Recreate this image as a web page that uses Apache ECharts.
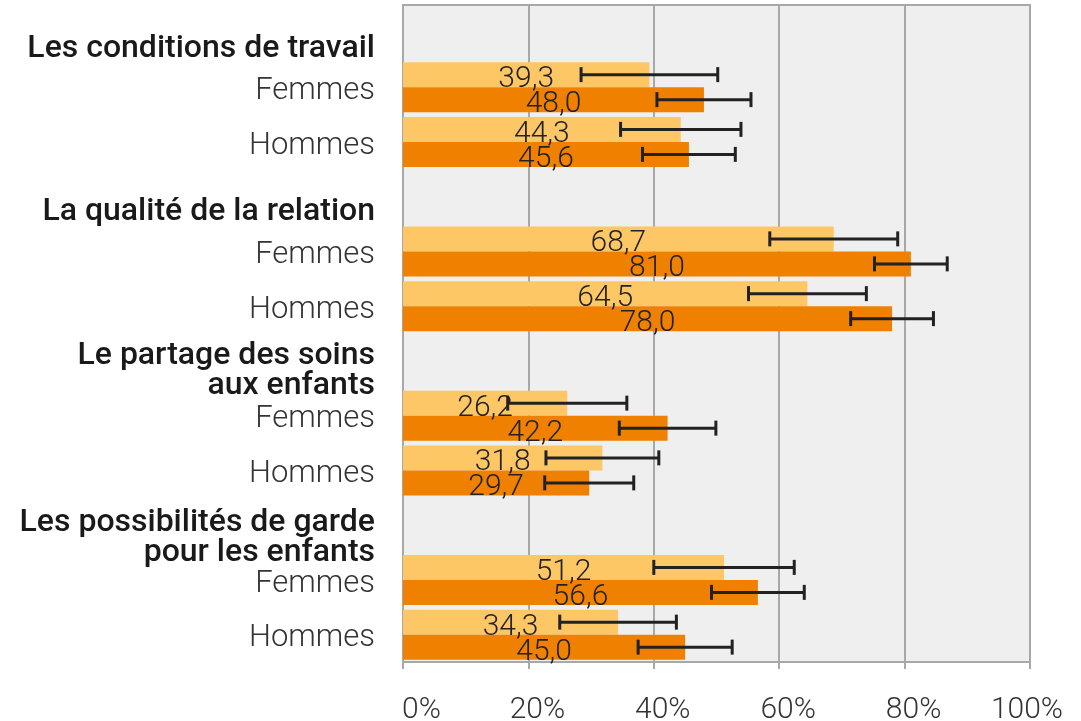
<!DOCTYPE html>
<html>
<head>
<meta charset="utf-8">
<script src="https://cdn.jsdelivr.net/npm/echarts@6/dist/echarts.min.js"></script>
<style>
  html, body { margin: 0; padding: 0; background: #fff; }
  #chart { width: 1081px; height: 721px; }
</style>
</head>
<body>
<div id="chart"></div>
<script>
// group titles (y axis headers) and the two rows under each
const groups = ['Les conditions de travail', 'La qualité de la relation', 'Le partage des soins\naux enfants', 'Les possibilités de garde\npour les enfants']
const sexes = ['Femmes', 'Hommes']
// values in %, order: group by group, Femmes then Hommes
const lightValues = [39.3, 44.3, 68.7, 64.5, 26.2, 31.8, 51.2, 34.3]
const darkValues = [48.0, 45.6, 81.0, 78.0, 42.2, 29.7, 56.6, 45.0]
// half width of the error bars, in %
const lightErr = [10.9, 9.6, 10.2, 9.4, 9.5, 9.0, 11.2, 9.3]
const darkErr = [7.5, 7.4, 5.8, 6.6, 7.7, 7.1, 7.4, 7.5]
const xTicks = [0, 20, 40, 60, 80, 100]

const FONT = 'Roboto'
const LIGHT = '#fdc766'
const DARK = '#f08000'
const GRID = '#a8a8a8'

let cats = []
let rowLabels = []
let light = []
let dark = []
let lightErrData = []
let darkErrData = []
groups.forEach(function (g, gi) {
  cats.push('g' + gi)
  rowLabels.push({head: true, text: g, gi: gi})
  light.push('-')
  dark.push('-')
  sexes.forEach(function (s, si) {
    let k = gi * 2 + si
    let row = cats.length
    cats.push('g' + gi + s)
    rowLabels.push({head: false, text: s})
    light.push(lightValues[k])
    dark.push(darkValues[k])
    lightErrData.push([lightValues[k] - lightErr[k], lightValues[k] + lightErr[k], row])
    darkErrData.push([darkValues[k] - darkErr[k], darkValues[k] + darkErr[k], row])
  })
})

function errorItem (offset) {
  return function (params, api) {
    let lo = api.coord([api.value(0), api.value(2)])
    let hi = api.coord([api.value(1), api.value(2)])
    let y = lo[1] + offset
    let style = {stroke: '#222', lineWidth: 3}
    return {
      type: 'group',
      children: [
        {type: 'line', shape: {x1: lo[0], y1: y, x2: hi[0], y2: y}, style: style},
        {type: 'line', shape: {x1: lo[0], y1: y - 7.5, x2: lo[0], y2: y + 7.5}, style: style},
        {type: 'line', shape: {x1: hi[0], y1: y - 7.5, x2: hi[0], y2: y + 7.5}, style: style}
      ]
    }
  }
}

let chart = echarts.init(document.getElementById('chart'), null, {renderer: 'canvas'})

let valueLabel = {
  show: true,
  position: 'inside',
  offset: [0, 5],
  fontFamily: FONT,
  fontWeight: 300,
  fontSize: 30,
  color: '#222',
  formatter: function (p) { return p.value.toFixed(1).replace('.', ',') }
}

// header label styles, the padding pushes each title a bit down
const headPad = [34, 30, 20, 25]
let yRich = {
  s: {fontFamily: FONT, fontWeight: 300, fontSize: 31, color: '#333', align: 'right', padding: [8, 0, 0, 0]}
}
headPad.forEach(function (p, i) {
  yRich['h' + i] = {fontFamily: FONT, fontWeight: 500, fontSize: 32, lineHeight: 30, color: '#1a1a1a', align: 'right', padding: [p, 0, 0, 0]}
})

let tickStyle = {fontFamily: FONT, fontWeight: 300, fontSize: 30, color: '#333'}

let option = {
  backgroundColor: '#fff',
  animation: false,
  grid: {
    left: 403,
    right: 51,
    top: 5,
    bottom: 59,
    outerBoundsMode: 'none',
    show: true,
    backgroundColor: '#efefef',
    borderColor: GRID,
    borderWidth: 2
  },
  xAxis: {
    type: 'value',
    min: xTicks[0],
    max: xTicks[xTicks.length - 1],
    interval: 20,
    axisLine: {show: true, lineStyle: {color: GRID, width: 2}},
    axisTick: {show: true, length: 7, lineStyle: {color: GRID, width: 2}},
    splitLine: {show: true, lineStyle: {color: GRID, width: 2}},
    axisLabel: {
      margin: 33,
      fontFamily: FONT,
      fontWeight: 300,
      fontSize: 30,
      color: '#333',
      formatter: function (v) {
        if (v === 0) return '{a|0%}'
        if (v === 100) return '{c|100%}'
        return '{b|' + v + '%}'
      },
      rich: {
        a: Object.assign({padding: [0, 0, 0, 37]}, tickStyle),
        b: Object.assign({padding: [0, 0, 0, 18]}, tickStyle),
        c: Object.assign({padding: [0, 6, 0, 0]}, tickStyle)
      }
    }
  },
  yAxis: {
    type: 'category',
    inverse: true,
    data: cats,
    axisLine: {show: true, lineStyle: {color: GRID, width: 2}},
    axisTick: {show: false},
    splitLine: {show: false},
    axisLabel: {
      interval: 0,
      margin: 28,
      formatter: function (v, i) {
        let r = rowLabels[i]
        if (!r.head) return '{s|' + r.text + '}'
        return r.text.split('\n').map(function (line) {
          return '{h' + r.gi + '|' + line + '}'
        }).join('\n')
      },
      rich: yRich
    }
  },
  series: [
    {
      type: 'bar',
      data: light,
      barWidth: 25,
      barGap: '0%',
      itemStyle: {color: LIGHT},
      label: valueLabel
    },
    {
      type: 'bar',
      data: dark,
      barWidth: 25,
      barGap: '0%',
      itemStyle: {color: DARK},
      label: valueLabel
    },
    {
      type: 'custom',
      renderItem: errorItem(-12.5),
      encode: {x: [0, 1], y: 2},
      data: lightErrData,
      z: 5
    },
    {
      type: 'custom',
      renderItem: errorItem(12.5),
      encode: {x: [0, 1], y: 2},
      data: darkErrData,
      z: 5
    }
  ]
}

chart.setOption(option)
</script>
</body>
</html>
